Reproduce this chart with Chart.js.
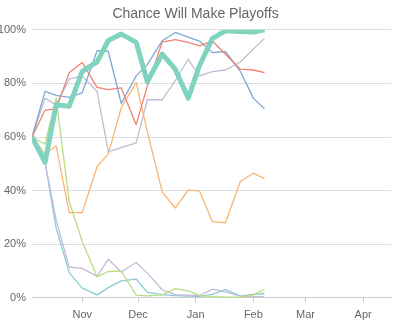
<!DOCTYPE html>
<html>
<head>
<meta charset="utf-8">
<script src="https://cdn.jsdelivr.net/npm/chart.js@4"></script>
<style>
  html, body { margin: 0; padding: 0; background: #fff; }
  #wrap { width: 401px; height: 330px; }
</style>
</head>
<body>
<div id="wrap"><canvas id="playoffChart"></canvas></div>
<script>
// Weekly snapshot dates
const dates = [
    '2014-10-05', '2014-10-12', '2014-10-18', '2014-10-25', '2014-11-01',
    '2014-11-09', '2014-11-15', '2014-11-22', '2014-11-30', '2014-12-06',
    '2014-12-14', '2014-12-21', '2014-12-28', '2015-01-03', '2015-01-10',
    '2015-01-17', '2015-01-25', '2015-02-01', '2015-02-07'
];
const axisStart = '2014-10-05';
const axisEnd = '2015-04-16';
const monthTicks = ['2014-11-01', '2014-12-01', '2015-01-01', '2015-02-01', '2015-03-01', '2015-04-01'];
const monthLabels = ['Nov', 'Dec', 'Jan', 'Feb', 'Mar', 'Apr'];

// Playoff odds (%) per team
const mainTeam = [60, 50.5, 72, 71.5, 84.5, 88, 96, 98.4, 95.3, 80.6, 90.9, 85.3, 74.5, 86.6, 96.8, 99.6, 99.4, 99.2, 100];
const redTeam = [60, 70, 70.5, 84, 87.8, 78.5, 77.7, 78.3, 64.6, 79, 95.4, 96.3, 95.3, 94, 95.8, 90.9, 85.3, 85, 84];
const blueTeam = [60, 77, 75.5, 74.8, 76.5, 92.2, 92, 72.5, 82.8, 87, 95.9, 99, 97.3, 95.8, 91.5, 91.9, 84.5, 74.5, 70.5];
const purpleTeam = [60, 74.5, 72, 81.6, 82.8, 77, 54.5, 56, 57.8, 73.9, 73.9, 81, 89, 82.8, 84.4, 85, 88, 92.8, 96.8];
const orangeTeam = [60, 53.7, 56.7, 31.8, 31.8, 49, 53.6, 71, 80.3, 62, 39.5, 33.5, 40.2, 39.9, 28.4, 28, 43.4, 46.5, 44.5];
const greenTeam = [60, 57.3, 74.5, 36, 21, 7.8, 9.8, 10, 1, 0.7, 1.1, 3.4, 2.6, 0.9, 0.4, 0.2, 0.2, 1.1, 3.2];
const lilacTeam = [60, 50.5, 29, 11.5, 11, 8, 14.4, 9.6, 13.2, 9.2, 3, 1.2, 1, 0.8, 3.2, 2.2, 0.6, 0.4, 0.3];
const aquaTeam = [60, 50.5, 26, 9.4, 3.6, 1.1, 3.8, 6.3, 7, 2, 1.2, 0.8, 0.6, 0.5, 1.3, 3.1, 0.6, 1.3, 1.6];

const yTicks = [0, 20, 40, 60, 80, 100];

const COLORS = {
    main: '#80d3bf',
    red: '#ef8273',
    blue: '#7ea8d3',
    purple: '#c0bbd3',
    orange: '#f8b574',
    green: '#b9de83',
    lilac: '#c4bcd9',
    aqua: '#88cbd4'
};

// day number from an ISO date
const toDay = s => {
    const [y, m, d] = s.split('-').map(Number);
    return Date.UTC(y, m - 1, d) / 86400000;
};

const xs = dates.map(toDay);
const series = (values) => values.map((v, i) => ({ x: xs[i], y: v }));

function lineSet(label, values, color, width) {
    return {
        label: label,
        data: series(values),
        borderColor: color,
        backgroundColor: color,
        borderWidth: width,
        pointRadius: 0,
        pointHoverRadius: 0,
        tension: 0,
        fill: false,
        borderJoinStyle: 'round'
    };
}

const fontFamily = '"Liberation Sans", Arial, sans-serif';
const monthDays = monthTicks.map(toDay);

new Chart(document.getElementById('playoffChart'), {
    type: 'line',
    data: {
        datasets: [
            lineSet('Team', mainTeam, COLORS.main, 5),
            lineSet('Red', redTeam, COLORS.red, 1.3),
            lineSet('Blue', blueTeam, COLORS.blue, 1.3),
            lineSet('Purple', purpleTeam, COLORS.purple, 1.3),
            lineSet('Orange', orangeTeam, COLORS.orange, 1.3),
            lineSet('Green', greenTeam, COLORS.green, 1.3),
            lineSet('Lilac', lilacTeam, COLORS.lilac, 1.3),
            lineSet('Aqua', aquaTeam, COLORS.aqua, 1.3)
        ]
    },
    options: {
        responsive: true,
        maintainAspectRatio: false,
        animation: false,
        layout: { padding: { left: 0, right: 10, top: 0, bottom: 2 } },
        plugins: {
            legend: { display: false },
            tooltip: { enabled: false },
            title: {
                display: true,
                text: 'Chance Will Make Playoffs',
                color: '#666',
                font: { family: fontFamily, size: 14, weight: 'normal' },
                padding: { top: 6, bottom: 7 }
            }
        },
        scales: {
            x: {
                type: 'linear',
                min: toDay(axisStart),
                max: toDay(axisEnd),
                afterBuildTicks: (scale) => {
                    scale.ticks = monthDays.map(v => ({ value: v }));
                },
                ticks: {
                    color: '#666',
                    font: { family: fontFamily, size: 11 },
                    padding: 6,
                    maxRotation: 0,
                    autoSkip: false,
                    callback: (v) => monthLabels[monthDays.indexOf(v)]
                },
                grid: { drawOnChartArea: false, tickLength: 5, color: '#ccc' },
                border: { display: true, color: '#ccc' }
            },
            y: {
                min: 0,
                max: 100,
                afterBuildTicks: (scale) => {
                    scale.ticks = yTicks.map(v => ({ value: v }));
                },
                afterFit: (scale) => { scale.width = 32; },
                ticks: {
                    color: '#666',
                    font: { family: fontFamily, size: 11 },
                    padding: 6,
                    callback: (v) => v + '%'
                },
                grid: { color: '#ddd', drawTicks: false },
                border: { display: false }
            }
        }
    }
});
</script>
</body>
</html>
